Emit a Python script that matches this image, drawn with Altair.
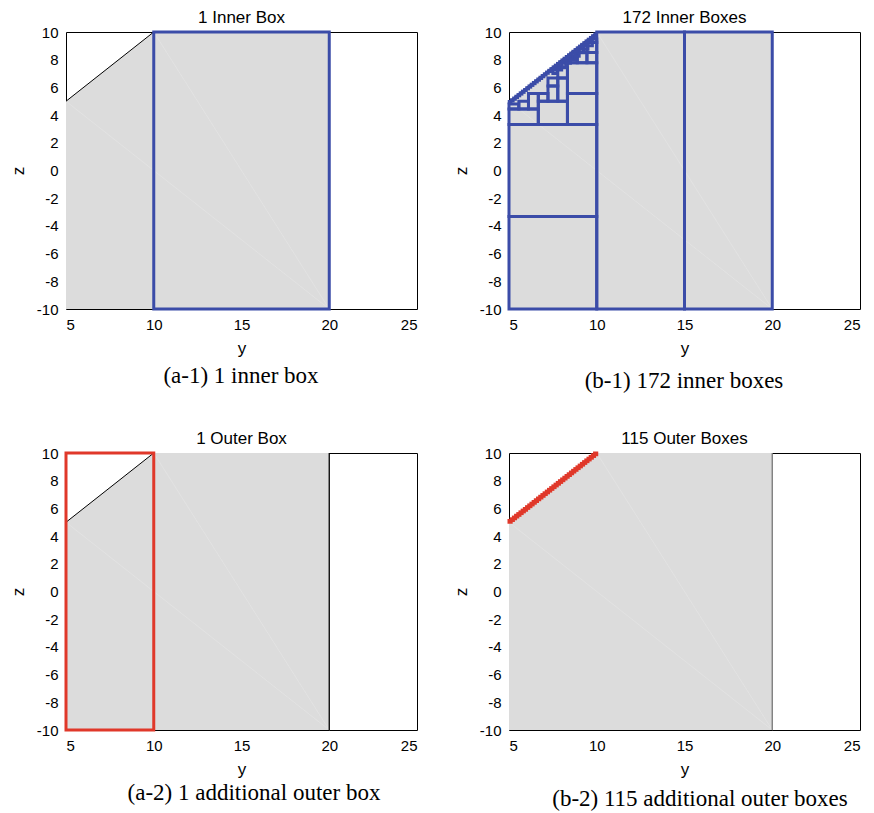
import altair as alt
import pandas as pd

# ---------------- data ----------------
y_ticks = [5, 10, 15, 20, 25]
z_ticks = [-10, -8, -6, -4, -2, 0, 2, 4, 6, 8, 10]

# feasible region (gray polygon): upper boundary over y, bottom at -10
shape_y = [5, 10, 20]
shape_top = [5, 10, 10]
shape_bottom = [-10, -10, -10]

# faint triangulation lines inside the region
faint_y1 = [5, 10]
faint_z1 = [5, 10]
faint_y2 = [20, 20]
faint_z2 = [-10, -10]

# region edges
diag_y1, diag_z1, diag_y2, diag_z2 = [5], [5], [10], [10]
right_y1, right_z1, right_y2, right_z2 = [20], [-10], [20], [10]

# (a-1) one inner box
a1_y1, a1_y2, a1_z1, a1_z2 = [10], [20], [-10], [10]

# (b-1) inner boxes: large and medium ones
b1_y1 = [10, 15, 5, 5, 8.33, 6.67, 5, 8.33,
         9.44, 9.44, 8.89, 8.33, 7.78, 7.22, 6.67, 7.78, 7.22, 6.11, 5.56, 5.0,
         7.5, 7.75, 8.0, 8.25, 8.5, 8.75, 9.0, 9.25, 9.5, 9.75]
b1_y2 = [15, 20, 10, 10, 10, 8.33, 6.67, 10,
         10, 10, 9.44, 8.89, 8.33, 7.78, 7.22, 8.33, 7.78, 6.67, 6.11, 5.56,
         7.75, 8.0, 8.25, 8.5, 8.75, 9.0, 9.25, 9.5, 9.75, 10.0]
b1_z1 = [-10, -10, -10, -3.33, 3.33, 3.33, 3.33, 5.56,
         7.78, 8.52, 7.78, 7.78, 5.0, 5.0, 5.0, 6.67, 6.11, 4.44, 4.44, 4.44,
         7.0, 7.25, 7.5, 7.75, 8.0, 8.25, 8.5, 8.75, 9.0, 9.25]
b1_z2 = [10, 10, -3.33, 3.33, 5.56, 5.0, 4.44, 7.78,
         8.52, 9.26, 8.52, 8.15, 6.67, 6.11, 5.56, 7.41, 6.67, 5.56, 5.0, 4.81,
         7.25, 7.5, 7.75, 8.0, 8.25, 8.5, 8.75, 9.0, 9.25, 9.5]

# tiny boxes hugging the boundary z = y (left/right in y)
fine_y1 = [5.0, 5.125, 5.25, 5.375, 5.5, 5.625, 5.75, 5.875, 6.0, 6.125,
           6.25, 6.375, 6.5, 6.625, 6.75, 6.875, 7.0, 7.125, 7.25, 7.375,
           7.5, 7.625, 7.75, 7.875, 8.0, 8.125, 8.25, 8.375, 8.5, 8.625,
           8.75, 8.875, 9.0, 9.125, 9.25, 9.375, 9.5, 9.625, 9.75, 9.875]
fine_y2 = [5.125, 5.25, 5.375, 5.5, 5.625, 5.75, 5.875, 6.0, 6.125, 6.25,
           6.375, 6.5, 6.625, 6.75, 6.875, 7.0, 7.125, 7.25, 7.375, 7.5,
           7.625, 7.75, 7.875, 8.0, 8.125, 8.25, 8.375, 8.5, 8.625, 8.75,
           8.875, 9.0, 9.125, 9.25, 9.375, 9.5, 9.625, 9.75, 9.875, 10.0]
# inner tiny boxes: just below the boundary
fine_in_z1 = [4.875, 5.0, 5.125, 5.25, 5.375, 5.5, 5.625, 5.75, 5.875, 6.0,
              6.125, 6.25, 6.375, 6.5, 6.625, 6.75, 6.875, 7.0, 7.125, 7.25,
              7.375, 7.5, 7.625, 7.75, 7.875, 8.0, 8.125, 8.25, 8.375, 8.5,
              8.625, 8.75, 8.875, 9.0, 9.125, 9.25, 9.375, 9.5, 9.625, 9.75]
fine_in_z2 = [5.0, 5.125, 5.25, 5.375, 5.5, 5.625, 5.75, 5.875, 6.0, 6.125,
              6.25, 6.375, 6.5, 6.625, 6.75, 6.875, 7.0, 7.125, 7.25, 7.375,
              7.5, 7.625, 7.75, 7.875, 8.0, 8.125, 8.25, 8.375, 8.5, 8.625,
              8.75, 8.875, 9.0, 9.125, 9.25, 9.375, 9.5, 9.625, 9.75, 9.875]
# outer tiny boxes: straddling the boundary
fine_out_z1 = [5.0, 5.125, 5.25, 5.375, 5.5, 5.625, 5.75, 5.875, 6.0, 6.125,
               6.25, 6.375, 6.5, 6.625, 6.75, 6.875, 7.0, 7.125, 7.25, 7.375,
               7.5, 7.625, 7.75, 7.875, 8.0, 8.125, 8.25, 8.375, 8.5, 8.625,
               8.75, 8.875, 9.0, 9.125, 9.25, 9.375, 9.5, 9.625, 9.75, 9.875]
fine_out_z2 = [5.125, 5.25, 5.375, 5.5, 5.625, 5.75, 5.875, 6.0, 6.125, 6.25,
               6.375, 6.5, 6.625, 6.75, 6.875, 7.0, 7.125, 7.25, 7.375, 7.5,
               7.625, 7.75, 7.875, 8.0, 8.125, 8.25, 8.375, 8.5, 8.625, 8.75,
               8.875, 9.0, 9.125, 9.25, 9.375, 9.5, 9.625, 9.75, 9.875, 10.0]

# (a-2) one outer box
a2_y1, a2_y2, a2_z1, a2_z2 = [5], [10], [-10], [10]

BLUE = "#3b4ca8"
RED = "#e0382a"
GRAY = "#dcdcdc"
W, H = 351, 277
SANS = "Liberation Sans"
SERIF = "Liberation Serif"


def seg_df(y1, z1, y2, z2):
    return pd.DataFrame({"y1": y1, "z1": z1, "y2": y2, "z2": z2})


def xenc(field):
    return alt.X(field, type="quantitative",
                 scale=alt.Scale(domain=[5, 25], nice=False, zero=False),
                 axis=alt.Axis(values=y_ticks, title="y", labelExpr="'' + datum.value"))


def yenc(field):
    return alt.Y(field, type="quantitative",
                 scale=alt.Scale(domain=[-10, 10], nice=False, zero=False),
                 axis=alt.Axis(values=z_ticks, title="z", labelExpr="'' + datum.value"))


def rect_layer(y1, y2, z1, z2, color, filled=False, sw=3):
    kw = dict(stroke=color, strokeWidth=sw)
    if filled:
        kw.update(fill=color, fillOpacity=1)
    else:
        kw.update(fillOpacity=0)
    return alt.Chart(seg_df(y1, z1, y2, z2)).mark_rect(**kw).encode(
        x=xenc("y1"), x2=alt.X2("y2"), y=yenc("z1"), y2=alt.Y2("z2")
    )


def panel(title, box_layers, caption, cap_x, cap_y, right_color="#333333"):
    area = alt.Chart(pd.DataFrame({"y": shape_y, "top": shape_top, "bot": shape_bottom})).mark_area(
        color=GRAY, opacity=1, interpolate="linear"
    ).encode(x=xenc("y"), y=yenc("top"), y2=alt.Y2("bot"))

    faint = alt.Chart(seg_df(faint_y1, faint_z1, faint_y2, faint_z2)).mark_rule(
        color="#e3e3e3", strokeWidth=0.8
    ).encode(x=xenc("y1"), y=yenc("z1"), x2=alt.X2("y2"), y2=alt.Y2("z2"))

    diag = alt.Chart(seg_df(diag_y1, diag_z1, diag_y2, diag_z2)).mark_rule(
        color="black", strokeWidth=1
    ).encode(x=xenc("y1"), y=yenc("z1"), x2=alt.X2("y2"), y2=alt.Y2("z2"))

    right = alt.Chart(seg_df(right_y1, right_z1, right_y2, right_z2)).mark_rule(
        color=right_color, strokeWidth=1.3
    ).encode(x=xenc("y1"), y=yenc("z1"), x2=alt.X2("y2"), y2=alt.Y2("z2"))

    cap = alt.Chart(pd.DataFrame({"t": [caption]})).mark_text(
        font=SERIF, fontSize=23, align="center", baseline="middle", color="black"
    ).encode(text="t:N", x=alt.value(cap_x), y=alt.value(cap_y))

    return alt.layer(area, faint, diag, right, *box_layers, cap).properties(
        width=W, height=H,
        title=alt.TitleParams(title, font=SANS, fontSize=17, fontWeight="normal", offset=-2, color="black"),
    )


p1 = panel("1 Inner Box",
           [rect_layer(a1_y1, a1_y2, a1_z1, a1_z2, BLUE)],
           "(a-1) 1 inner box", 175, 344)
p2 = panel("172 Inner Boxes",
           [rect_layer(b1_y1, b1_y2, b1_z1, b1_z2, BLUE),
            rect_layer(fine_y1, fine_y2, fine_in_z1, fine_in_z2, BLUE, sw=2.5)],
           "(b-1) 172 inner boxes", 175, 349)
p3 = panel("1 Outer Box",
           [rect_layer(a2_y1, a2_y2, a2_z1, a2_z2, RED)],
           "(a-2) 1 additional outer box", 188, 340, right_color="black")
p4 = panel("115 Outer Boxes",
           [rect_layer(fine_y1, fine_y2, fine_out_z1, fine_out_z2, RED, filled=True, sw=3)],
           "(b-2) 115 additional outer boxes", 191, 346, right_color="#777777")

chart = alt.vconcat(
    alt.hconcat(p1, p2, spacing=33),
    alt.hconcat(p3, p4, spacing=33),
    spacing=35,
).properties(
    padding={"left": 0, "top": 0, "right": 0, "bottom": 0}
).configure_view(
    stroke="black", strokeWidth=1
).configure_axis(
    labelFont=SANS, labelFontSize=15, labelColor="black",
    titleFont=SANS, titleFontSize=17, titleFontWeight="normal", titleColor="black",
    tickSize=0, domain=False, grid=False, labelPadding=8,
).configure_axisY(
    titlePadding=9
).configure_axisX(
    titlePadding=8
)

chart.save("out.html", embed_options={"renderer": "svg", "actions": False})
